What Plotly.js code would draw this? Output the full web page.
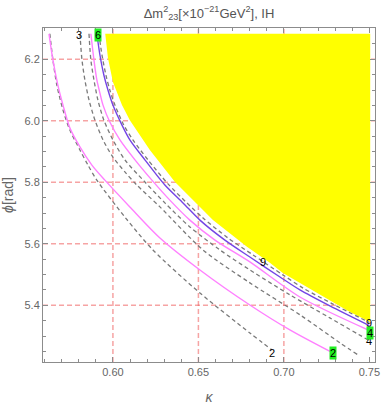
<!DOCTYPE html>
<html>
<head>
<meta charset="utf-8">
<script src="https://cdn.plot.ly/plotly-3.0.1.min.js"></script>
<style>
  html, body { margin: 0; padding: 0; background: #fff; }
  #plot { width: 382px; height: 405px; }
</style>
</head>
<body>
<div id="plot"></div>
<script>
// excluded region (yellow)
const regionK   = [0.5955, 0.5971, 0.6000, 0.6053, 0.6099, 0.6216, 0.6363, 0.6585, 0.6784, 0.6918, 0.6994, 0.7094, 0.7193, 0.7386, 0.7505, 0.7505];
const regionPhi = [6.283, 6.204, 6.126, 6.051, 6.002, 5.905, 5.801, 5.677, 5.590, 5.538, 5.505, 5.472, 5.440, 5.378, 5.346, 6.283];

// gray dashed contours
const dash2K   = [0.5631, 0.5649, 0.5672, 0.5708, 0.5748, 0.5807, 0.5854, 0.5906, 0.6070, 0.6234, 0.6509, 0.6801, 0.6930];
const dash2Phi = [6.283, 6.198, 6.116, 6.035, 5.970, 5.905, 5.856, 5.807, 5.687, 5.580, 5.440, 5.310, 5.255];
const dash3K   = [0.5807, 0.5819, 0.5836, 0.5860, 0.5895, 0.5942, 0.6000, 0.6070, 0.6140, 0.6275, 0.6527, 0.6801, 0.7094, 0.7328, 0.7430];
const dash3Phi = [6.283, 6.198, 6.133, 6.068, 6.002, 5.938, 5.882, 5.834, 5.791, 5.720, 5.580, 5.473, 5.369, 5.278, 5.240];
const dash4K   = [0.5860, 0.5871, 0.5889, 0.5912, 0.5947, 0.6000, 0.6070, 0.6187, 0.6304, 0.6450, 0.6626, 0.6801, 0.7035, 0.7269, 0.7500];
const dash4Phi = [6.283, 6.198, 6.133, 6.068, 6.002, 5.938, 5.873, 5.801, 5.733, 5.655, 5.580, 5.515, 5.434, 5.359, 5.285];
const dash9K   = [0.5918, 0.5936, 0.5959, 0.5982, 0.6012, 0.6064, 0.6117, 0.6205, 0.6322, 0.6427, 0.6527, 0.6673, 0.6819, 0.6994, 0.7112, 0.7287, 0.7500];
const dash9Phi = [6.283, 6.214, 6.149, 6.100, 6.051, 5.986, 5.938, 5.873, 5.795, 5.736, 5.684, 5.619, 5.564, 5.499, 5.456, 5.404, 5.344];

// pink contours
const pink2K   = [0.5626, 0.5649, 0.5678, 0.5708, 0.5748, 0.5807, 0.5877, 0.5953, 0.6099, 0.6275, 0.6509, 0.6801, 0.7035, 0.7287];
const pink2Phi = [6.283, 6.198, 6.116, 6.051, 5.977, 5.915, 5.856, 5.807, 5.720, 5.619, 5.515, 5.401, 5.320, 5.245];
const pink4K   = [0.5871, 0.5889, 0.5906, 0.5924, 0.5942, 0.5982, 0.6041, 0.6129, 0.6228, 0.6333, 0.6450, 0.6597, 0.6801, 0.7094, 0.7500];
const pink4Phi = [6.283, 6.198, 6.133, 6.090, 6.051, 5.996, 5.938, 5.873, 5.807, 5.742, 5.677, 5.612, 5.541, 5.427, 5.318];

// central (purple) contour
const centK   = [0.5906, 0.5924, 0.5947, 0.5971, 0.6000, 0.6053, 0.6099, 0.6187, 0.6304, 0.6410, 0.6509, 0.6655, 0.6801, 0.6977, 0.7094, 0.7269, 0.7500];
const centPhi = [6.283, 6.214, 6.149, 6.100, 6.051, 5.986, 5.938, 5.873, 5.791, 5.733, 5.677, 5.612, 5.557, 5.492, 5.450, 5.398, 5.334];

// contour labels
const labelK    = [0.5801, 0.5912, 0.6878, 0.7498, 0.7498, 0.7503, 0.6930, 0.7287];
const labelPhi  = [6.279, 6.280, 5.541, 5.343, 5.284, 5.310, 5.245, 5.245];
const labelText = ["3", "6", "9", "9", "4", "4", "2", "2"];
const labelBox  = [false, true, false, false, false, true, false, true];

const gridK   = [0.60, 0.65, 0.70];
const gridPhi = [5.4, 5.6, 5.8, 6.0, 6.2];

const gray = "#7a7a7a";
const pink = "#ff80ff";

function dashed(x, y) {
  return { x: x, y: y, type: "scatter", mode: "lines",
           line: { color: gray, width: 1.3, dash: "4px,3px", shape: "spline", smoothing: 0.8 } };
}
function solid(x, y, c) {
  return { x: x, y: y, type: "scatter", mode: "lines",
           line: { color: c, width: 1.4, shape: "spline", smoothing: 0.8 } };
}

const traces = [
  { x: regionK, y: regionPhi, type: "scatter", mode: "lines", fill: "toself",
    fillcolor: "#ffff00", line: { width: 0, color: "#ffff00" } },
  dashed(dash2K, dash2Phi),
  dashed(dash3K, dash3Phi),
  dashed(dash4K, dash4Phi),
  solid(pink2K, pink2Phi, pink),
  solid(pink4K, pink4Phi, pink),
  solid(centK, centPhi, "#7444e6"),
  dashed(dash9K, dash9Phi)
];

const shapes = [];
gridK.forEach(g => shapes.push({ type: "line", xref: "x", yref: "paper", x0: g, x1: g, y0: 0, y1: 1,
  layer: "below", line: { color: "rgba(238,90,90,0.55)", width: 1.5, dash: "5px,3px" } }));
gridPhi.forEach(g => shapes.push({ type: "line", xref: "paper", yref: "y", x0: 0, x1: 1, y0: g, y1: g,
  layer: "below", line: { color: "rgba(238,90,90,0.55)", width: 1.5, dash: "5px,3px" } }));

const annotations = labelText.map((t, i) => ({
  x: labelK[i], y: labelPhi[i], text: t, showarrow: false,
  font: { size: 11, color: "#000", family: "Liberation Sans, Arial, sans-serif" },
  bgcolor: labelBox[i] ? "#22ee22" : "rgba(0,0,0,0)", borderpad: 0
}));

const axisCommon = {
  showgrid: false, zeroline: false, showline: true, linecolor: "#8c8c8c", linewidth: 1,
  mirror: "allticks", ticks: "inside", ticklen: 5, tickcolor: "#8c8c8c",
  tickfont: { size: 11, color: "#666" }
};

const layout = {
  width: 382, height: 405,
  margin: { l: 43, r: 7, t: 28, b: 43 },
  paper_bgcolor: "#fff", plot_bgcolor: "#fff",
  font: { family: "Liberation Sans, Arial, sans-serif", color: "#666" },
  showlegend: false, hovermode: false,
  title: { text: "Δm<sup>2</sup><sub>23</sub>[×10<sup>−21</sup>GeV<sup>2</sup>], IH",
           x: 0.5, xref: "paper", y: 0.968, yref: "container", yanchor: "middle",
           font: { size: 13, color: "#555" } },
  xaxis: Object.assign({}, axisCommon, {
    range: [0.5591, 0.7533], tickvals: [0.60, 0.65, 0.70, 0.75], tickformat: ".2f",
    minor: { dtick: 0.01, ticks: "inside", ticklen: 3, tickcolor: "#8c8c8c", showgrid: false },
    title: { text: "<i>κ</i>", font: { size: 14, color: "#666" }, standoff: 14 }
  }),
  yaxis: Object.assign({}, axisCommon, {
    range: [5.2156, 6.3018], tick0: 5.4, dtick: 0.2, tickformat: ".1f",
    minor: { dtick: 0.05, ticks: "inside", ticklen: 3, tickcolor: "#8c8c8c", showgrid: false },
    title: { text: "<i>ϕ</i>[rad]", font: { size: 14, color: "#666" }, standoff: 8 }
  }),
  shapes: shapes,
  annotations: annotations
};

Plotly.newPlot("plot", traces, layout, { staticPlot: true });
</script>
</body>
</html>
